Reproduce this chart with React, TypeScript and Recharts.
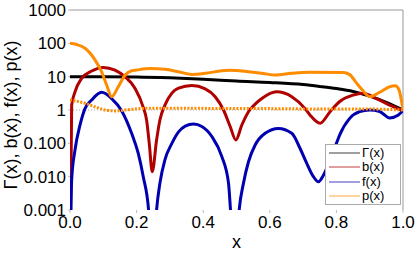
import { LineChart, Line, XAxis, YAxis, ReferenceLine, Legend } from 'recharts'

// Γ(x)
const gammaX = [0, 0.1, 0.2, 0.3, 0.4, 0.5, 0.6, 0.7, 0.75, 0.8, 0.85, 0.9, 0.95, 1.0]
const gammaY = [10, 10, 9.8, 9.2, 8.4, 7.4, 6.7, 5.8, 5.1, 4.4, 3.6, 2.6, 1.7, 1.0]

// b(x)
const bX = [0, 0.005, 0.015, 0.035, 0.065, 0.1, 0.135, 0.165, 0.195, 0.22, 0.23, 0.238, 0.247, 0.26, 0.27, 0.285, 0.306, 0.326, 0.366, 0.406, 0.436, 0.461, 0.481, 0.498, 0.516, 0.536, 0.556, 0.576, 0.62, 0.666, 0.706, 0.721, 0.751, 0.781, 0.81, 0.85, 0.88, 0.92, 0.96, 1.0]
const bY = [0.00001, 1.4, 3.5, 8.9, 14.8, 19, 15.8, 10, 4.5, 1.2, 0.5, 0.1, 0.014, 0.126, 0.5, 1.4, 3.2, 4.5, 5.4, 4.3, 2.5, 1.0, 0.32, 0.126, 0.355, 0.89, 1.5, 2.2, 3.5, 2.5, 1.1, 0.7, 0.4, 0.89, 1.8, 2.8, 3.2, 2.2, 1.4, 0.95]

// f(x)
const fX = [0, 0.005, 0.015, 0.03, 0.045, 0.065, 0.095, 0.125, 0.155, 0.185, 0.205, 0.22, 0.236, 0.248, 0.26, 0.27, 0.285, 0.306, 0.326, 0.346, 0.371, 0.396, 0.426, 0.456, 0.476, 0.482, 0.495, 0.508, 0.521, 0.536, 0.556, 0.586, 0.626, 0.666, 0.691, 0.711, 0.731, 0.746, 0.761, 0.781, 0.8, 0.81, 0.84, 0.87, 0.9, 0.93, 0.96, 0.985, 1.0]
const fY = [0.00001, 0.008, 0.063, 0.35, 1.1, 2.0, 3.4, 2.2, 0.95, 0.2, 0.05, 0.01, 0.001, 0.00001, 0.001, 0.0064, 0.032, 0.1, 0.22, 0.33, 0.38, 0.32, 0.16, 0.04, 0.0064, 0.001, 0.00001, 0.001, 0.0064, 0.028, 0.089, 0.2, 0.28, 0.2, 0.07, 0.025, 0.01, 0.007, 0.011, 0.032, 0.1, 0.18, 0.56, 0.89, 1.0, 0.9, 0.58, 0.7, 0.95]

// p(x), solid
const pX = [0, 0.02, 0.045, 0.075, 0.095, 0.11, 0.125, 0.145, 0.165, 0.185, 0.2, 0.24, 0.285, 0.326, 0.366, 0.406, 0.456, 0.48, 0.536, 0.58, 0.616, 0.666, 0.721, 0.82, 0.84, 0.86, 0.88, 0.9, 0.93, 0.96, 0.977, 0.988, 0.995, 1.0]
const pY = [100, 92, 71, 32, 14, 5.6, 2.5, 5, 11, 15, 15.8, 17.5, 16.6, 14, 11.7, 12.6, 15, 15.5, 14, 12.5, 11.2, 12.6, 13.5, 13.3, 11.5, 6.5, 3.8, 2.5, 3.4, 5, 5.3, 4, 2, 1]

// p(x), dotted companion
const pdX = [0, 0.045, 0.075, 0.105, 0.135, 0.185, 0.24, 0.3, 0.4, 0.5, 0.6, 0.7, 0.8, 0.9, 1.0]
const pdY = [2.0, 1.6, 1.25, 1.0, 0.94, 1.05, 1.13, 1.13, 1.12, 1.1, 1.1, 1.08, 1.08, 1.07, 1.0]

const xTicks = [0, 0.2, 0.4, 0.6, 0.8, 1.0]
const yTicks = [0.001, 0.01, 0.1, 1, 10, 100, 1000]
const yTickLabels = ['0.001', '0.010', '0.100', '1', '10', '100', '1000']

const seriesNames = ['Γ(x)', 'b(x)', 'f(x)', 'p(x)']
const seriesColors = ['#000000', '#b00000', '#0000b0', '#ff8c00']

const font = '"Liberation Sans", Arial, sans-serif'

const pts = (xs: number[], ys: number[]) => xs.map((x, i) => ({ x, y: ys[i] }))

function LegendBox() {
  return (
    <div style={{
      border: '1px solid #aaa', background: '#fff', padding: '1px 2px 1px 3px',
      fontFamily: font, fontSize: 13, color: '#000', boxSizing: 'border-box',
    }}>
      {seriesNames.map((n, i) => (
        <div key={n} style={{ display: 'flex', alignItems: 'center', height: 14.3 }}>
          <svg width={31} height={4} style={{ display: 'block' }}>
            <line x1={0} y1={2} x2={31} y2={2} stroke={seriesColors[i]} strokeOpacity={0.38} strokeWidth={2} />
          </svg>
          <span style={{ marginLeft: 2, lineHeight: '14px' }}>{n}</span>
        </div>
      ))}
    </div>
  )
}

function YLabel(props: any) {
  const vb = props.viewBox
  const cx = vb.x + 17
  const cy = vb.y + vb.height / 2 + 5
  return (
    <text x={cx} y={cy} transform={`rotate(-90 ${cx} ${cy})`} textAnchor="middle"
      fontFamily={font} fontSize={18} fill="#000">
      Γ(x), b(x), f(x), p(x)
    </text>
  )
}

export default function App() {
  const tick = { fill: '#000', fontSize: 17, fontFamily: font }
  return (
    <div style={{ position: 'absolute', left: 0, top: 0, background: '#fff' }}>
      <LineChart width={415} height={253} margin={{ top: 10, right: 12, bottom: 0, left: 0 }}>
        <XAxis
          dataKey="x" type="number" domain={[0, 1]} ticks={xTicks} allowDataOverflow
          tickFormatter={v => v.toFixed(1)} tick={tick}
          axisLine={false} tickLine={{ stroke: '#bbb' }} tickSize={3} tickMargin={3}
          height={43}
          label={{ value: 'x', position: 'insideBottom', offset: 5, fill: '#000', fontSize: 18, fontFamily: font }}
        />
        <YAxis
          type="number" scale="log" domain={[0.001, 1000]} ticks={yTicks} allowDataOverflow
          tickFormatter={v => yTickLabels[yTicks.indexOf(v)] ?? String(v)} tick={tick}
          axisLine={false} tickLine={{ stroke: '#bbb' }} tickSize={2} tickMargin={2}
          width={70}
          label={<YLabel />}
        />
        <ReferenceLine y={1} stroke="#aaa" strokeDasharray="1 2" />
        <ReferenceLine y={1000} stroke="#999" />
        <ReferenceLine x={1} stroke="#999" />
        <Line data={pts(gammaX, gammaY)} dataKey="y" name={seriesNames[0]} type="monotone"
          stroke={seriesColors[0]} strokeWidth={3} dot={false} isAnimationActive={false} />
        <Line data={pts(bX, bY)} dataKey="y" name={seriesNames[1]} type="monotone"
          stroke={seriesColors[1]} strokeWidth={3} dot={false} isAnimationActive={false} />
        <Line data={pts(fX, fY)} dataKey="y" name={seriesNames[2]} type="monotone"
          stroke={seriesColors[2]} strokeWidth={3} dot={false} isAnimationActive={false} />
        <Line data={pts(pX, pY)} dataKey="y" name={seriesNames[3]} type="monotone"
          stroke={seriesColors[3]} strokeWidth={3} dot={false} isAnimationActive={false} />
        <Line data={pts(pdX, pdY)} dataKey="y" name="p dotted" type="monotone" legendType="none"
          stroke={seriesColors[3]} strokeWidth={3} strokeDasharray="2 1.5" dot={false} isAnimationActive={false} />
        <Legend layout="vertical" align="center" verticalAlign="middle"
          content={<LegendBox />}
          wrapperStyle={{ left: 325, top: 144, width: 76 }} />
      </LineChart>
    </div>
  )
}
